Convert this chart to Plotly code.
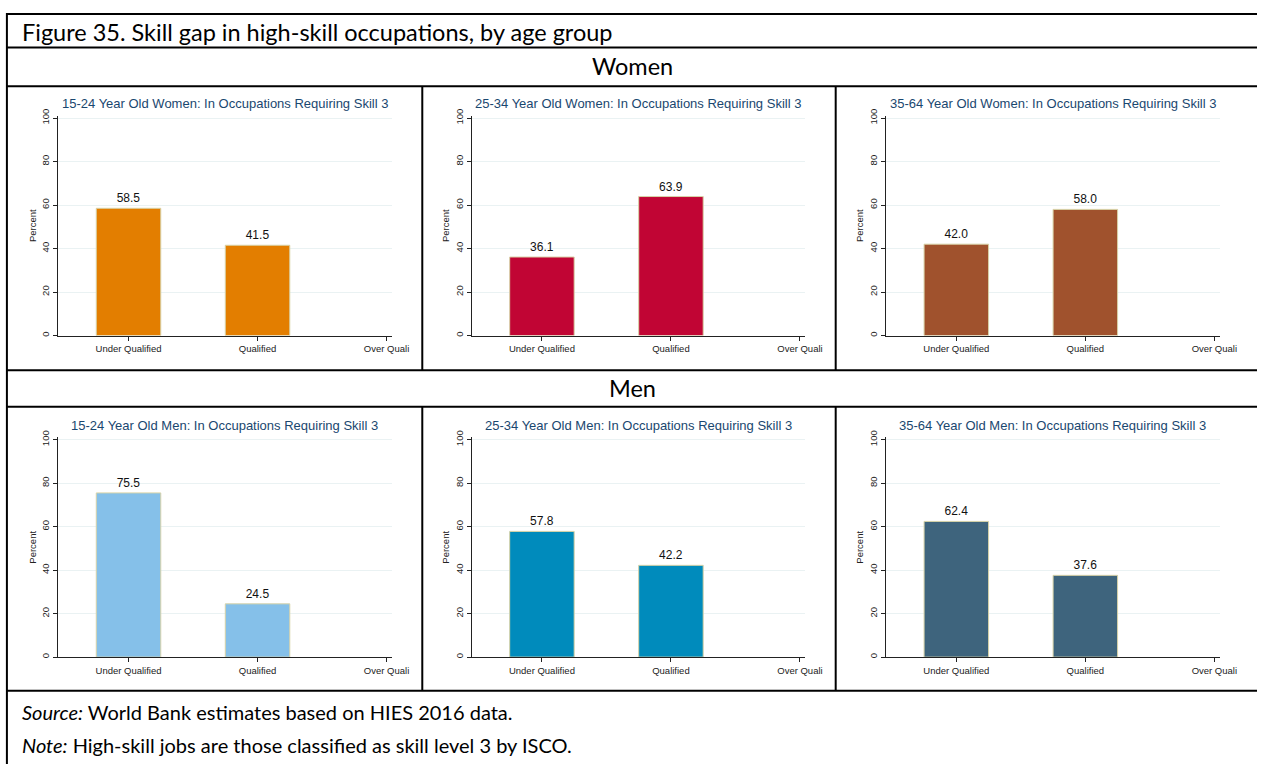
import plotly.graph_objects as go

# ---------------- data ----------------
categories = ["Under Qualified", "Qualified", "Over Qualified"]
tick_labels = ["Under Qualified", "Qualified", "Over Quali"]
panel_titles = [
    "15-24 Year Old Women: In Occupations Requiring Skill 3",
    "25-34 Year Old Women: In Occupations Requiring Skill 3",
    "35-64 Year Old Women: In Occupations Requiring Skill 3",
    "15-24 Year Old Men: In Occupations Requiring Skill 3",
    "25-34 Year Old Men: In Occupations Requiring Skill 3",
    "35-64 Year Old Men: In Occupations Requiring Skill 3",
]
women_15_24 = [58.5, 41.5, None]
women_25_34 = [36.1, 63.9, None]
women_35_64 = [42.0, 58.0, None]
men_15_24 = [75.5, 24.5, None]
men_25_34 = [57.8, 42.2, None]
men_35_64 = [62.4, 37.6, None]
series = [women_15_24, women_25_34, women_35_64, men_15_24, men_25_34, men_35_64]
colors = ["#E37E00", "#C10534", "#A0522D", "#85C0E9", "#008BBC", "#3E647D"]
y_ticks = [0, 20, 40, 60, 80, 100]

fig_title = "Figure 35. Skill gap in high-skill occupations, by age group"
row_labels = ["Women", "Men"]
source_note = "<i>Source:</i> World Bank estimates based on HIES 2016 data."
note_text = "<i>Note:</i> High-skill jobs are those classified as skill level 3 by ISCO."

# ---------------- layout geometry (pixels) ----------------
W, H = 1274, 765
def px(x):
    return x / W
def py(y):
    return 1 - y / H

col_left = [59, 478, 898]
col_right = [397, 816, 1236]
row_top = [112, 437]
row_bottom = [332, 657]

fig = go.Figure()
layout_axes = {}
annotations = []
for i, vals in enumerate(series):
    r, c = divmod(i, 3)
    n = i + 1
    xa = "x" if n == 1 else f"x{n}"
    ya = "y" if n == 1 else f"y{n}"
    fig.add_trace(go.Bar(
        x=[0, 1, 2], y=vals, xaxis=xa, yaxis=ya, width=0.5,
        marker=dict(color=colors[i], line=dict(color="#D8D3A8", width=1)),
        text=[f"{v:.1f}" if v is not None else "" for v in vals],
        textposition="outside", cliponaxis=False,
        textfont=dict(family="Liberation Sans, Arial", size=12, color="#111111"),
        showlegend=False, hoverinfo="skip",
    ))
    layout_axes[f"xaxis{'' if n == 1 else n}"] = dict(
        domain=[px(col_left[c]), px(col_right[c])], anchor=ya,
        range=[-0.545, 2.04], tickvals=[0, 1, 2], ticktext=tick_labels,
        showgrid=False, zeroline=False, showline=True, linecolor="#222222", linewidth=1,
        ticks="outside", ticklen=4, tickcolor="#222222",
        tickfont=dict(family="Liberation Sans, Arial", size=9.5, color="#222222"),
        fixedrange=True,
    )
    layout_axes[f"yaxis{'' if n == 1 else n}"] = dict(
        domain=[py(row_bottom[r]), py(row_top[r] - 2)], anchor=xa,
        range=[0, 101], tickvals=y_ticks, tickangle=-90,
        showgrid=True, gridcolor="#EAF2F3", gridwidth=1, zeroline=False,
        showline=True, linecolor="#222222", linewidth=1,
        ticks="outside", ticklen=4, tickcolor="#222222",
        tickfont=dict(family="Liberation Sans, Arial", size=9.5, color="#222222"),
        title=dict(text="Percent", standoff=2,
                   font=dict(family="Liberation Sans, Arial", size=9.5, color="#222222")),
        fixedrange=True,
    )
    annotations.append(dict(
        text=panel_titles[i], xref="paper", yref="paper",
        x=px((col_left[c] + col_right[c]) / 2), y=py(row_top[r] - 14),
        xanchor="center", yanchor="middle", showarrow=False,
        font=dict(family="Liberation Sans, Arial", size=13, color="#1A476F"),
    ))

# table text
tfont = "Lato, Open Sans, sans-serif"
annotations.append(dict(text=fig_title, xref="paper", yref="paper", x=px(20), y=py(25),
                        xanchor="left", yanchor="middle", showarrow=False,
                        font=dict(family=tfont, size=23.5, color="#000000")))
annotations.append(dict(text=row_labels[0], xref="paper", yref="paper", x=px(641), y=py(60),
                        xanchor="center", yanchor="middle", showarrow=False,
                        font=dict(family=tfont, size=23.5, color="#000000")))
annotations.append(dict(text=row_labels[1], xref="paper", yref="paper", x=px(641), y=py(385),
                        xanchor="center", yanchor="middle", showarrow=False,
                        font=dict(family=tfont, size=23.5, color="#000000")))
annotations.append(dict(text=source_note, xref="paper", yref="paper", x=px(20), y=py(712),
                        xanchor="left", yanchor="middle", showarrow=False,
                        font=dict(family=tfont, size=20, color="#000000")))
annotations.append(dict(text=note_text, xref="paper", yref="paper", x=px(20), y=py(746),
                        xanchor="left", yanchor="middle", showarrow=False,
                        font=dict(family=tfont, size=20, color="#000000")))

# table borders
shapes = []
def hline(y, x0=7, x1=W):
    shapes.append(dict(type="line", xref="paper", yref="paper", x0=px(x0), x1=px(x1),
                       y0=py(y), y1=py(y), line=dict(color="#000000", width=2)))
def vline(x, y0, y1):
    shapes.append(dict(type="line", xref="paper", yref="paper", x0=px(x), x1=px(x),
                       y0=py(y0), y1=py(y1), line=dict(color="#000000", width=2)))
for y in [7, 41, 80, 367, 404, 691]:
    hline(y)
vline(7, 6, H)
for x in [428, 847]:
    vline(x, 80, 367)
    vline(x, 404, 691)

fig.update_layout(
    autosize=True, margin=dict(l=0, r=0, t=0, b=0, pad=0),
    paper_bgcolor="white", plot_bgcolor="white",
    annotations=annotations, shapes=shapes, bargap=0.5,
    **layout_axes,
)
fig.write_html(
    "out.html",
    config={"displayModeBar": False, "responsive": True},
    default_width="100vw",
    default_height="100vh",
    post_script=(
        "document.documentElement.style.overflow='hidden';"
        "document.body.style.margin='0';document.body.style.overflow='hidden';"
        "var d=document.getElementById('{plot_id}');"
        "d.style.position='fixed';d.style.top='0px';d.style.left='0px';"
        "Plotly.Plots.resize(d);"
    ),
)
